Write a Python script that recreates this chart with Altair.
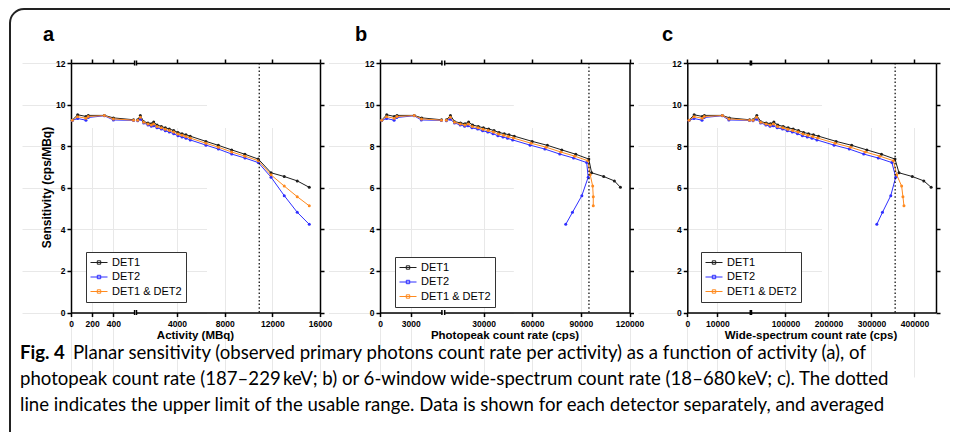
import altair as alt
import pandas as pd

# ---------------- data ----------------
SERIES = ["DET1", "DET2", "DET1 & DET2"]
SERIES_COLORS = ["#1e1e1e", "#2f2fff", "#ff8a1f"]

ACTIVITY = [12, 63, 141, 163, 315, 400, 590, 700, 920, 1205, 1565, 1845, 2045, 2320, 2685, 3020,
            3355, 3720, 4080, 4420, 4750, 5110, 6430, 7470, 8590, 9700, 10820, 11890, 13000, 14090, 15100]

SENS_DET1 = [9.25, 9.51, 9.43, 9.48, 9.48, 9.36, 9.27, 9.27, 9.48, 9.18, 9.12, 9.08, 9.16, 9.02, 8.95, 8.88,
             8.83, 8.75, 8.66, 8.60, 8.55, 8.48, 8.23, 8.04, 7.82, 7.61, 7.38, 6.72, 6.54, 6.33, 6.02]
SENS_DET2 = [9.24, 9.33, 9.25, 9.38, 9.46, 9.26, 9.24, 9.22, 9.30, 9.12, 9.02, 8.96, 8.98, 8.88, 8.82, 8.74,
             8.68, 8.60, 8.50, 8.44, 8.38, 8.30, 8.05, 7.86, 7.62, 7.43, 7.21, 6.51, 5.62, 4.82, 4.24]
SENS_BOTH = [9.25, 9.42, 9.34, 9.43, 9.47, 9.31, 9.25, 9.25, 9.39, 9.15, 9.07, 9.02, 9.07, 8.95, 8.88, 8.81,
             8.75, 8.68, 8.58, 8.52, 8.46, 8.39, 8.14, 7.95, 7.72, 7.52, 7.30, 6.62, 6.08, 5.57, 5.13]

PEAK_DET1 = [160, 659, 1400, 1660, 3345, 4080, 6016, 7138, 9594, 12168, 15771, 18595, 20793, 23228, 26794, 29902,
             33180, 36456, 39573, 42763, 45689, 48966, 60010, 69367, 78257, 86882, 94900, 96640, 104090, 110670, 114400]
PEAK_DET2 = [158, 647, 1380, 1645, 3338, 4037, 5997, 7100, 9412, 12088, 15598, 18349, 20384, 22868, 26405, 29431,
             32616, 35831, 38842, 41967, 44781, 47927, 58698, 67814, 77000, 85500, 93600, 94530, 90620, 84850, 80690]
PEAK_BOTH = [159, 653, 1390, 1652, 3342, 4059, 6006, 7119, 9503, 12128, 15685, 18472, 20589, 23048, 26600, 29667,
             32898, 36144, 39208, 42365, 45235, 48447, 59354, 68590, 77600, 86200, 94300, 95770, 97300, 97650, 97650]

WIDE_DET1 = [560, 2276, 5000, 5700, 11700, 14000, 20780, 24660, 33316, 42478, 55093, 65000, 73055, 82032, 94681,
             106198, 117906, 130200, 142040, 153566, 164887, 176796, 217800, 254000, 289300, 323300, 354700,
             363900, 394900, 421700, 438700]
WIDE_DET2 = [555, 2230, 4905, 5640, 11675, 13850, 20713, 24527, 32683, 42200, 54489, 64141, 71619, 80759, 93306,
             104524, 115903, 127968, 139416, 150709, 161609, 173043, 213037, 248313, 281901, 315653, 347500,
             356300, 344800, 325600, 312400]
WIDE_BOTH = [558, 2253, 4953, 5670, 11688, 13925, 20747, 24594, 33000, 42339, 54791, 64571, 72337, 81396, 93994,
             105361, 116905, 129084, 140728, 152138, 163248, 174920, 215419, 251157, 285601, 319477, 351000,
             358600, 370100, 373100, 375500]

PANEL_LETTERS = ["a", "b", "c"]
X_TITLES = ["Activity (MBq)", "Photopeak count rate (cps)", "Wide-spectrum count rate (cps)"]
Y_TITLE = "Sensitivity (cps/MBq)"
LEFT_TICKS = [[0, 200, 400], [0, 3000], [0, 10000]]
RIGHT_TICKS = [[4000, 8000, 12000, 16000], [30000, 60000, 90000, 120000], [100000, 200000, 300000, 400000]]
BREAKS = [600, 6050, 21000]
X_MAX = [16000, 120000, 450000]
LIMITS = [10900, 95000, 355000]
Y_TICKS = [0, 2, 4, 6, 8, 10, 12]

FIG_LABEL = "Fig. 4"
CAPTION = [
    "Planar sensitivity (observed primary photons count rate per activity) as a function of activity (a), of",
    "photopeak count rate (187\u2013229\u2009keV; b) or 6-window wide-spectrum count rate (18\u2013680\u2009keV; c). The dotted",
    "line indicates the upper limit of the usable range. Data is shown for each detector separately, and averaged",
]

SENS = [SENS_DET1, SENS_DET2, SENS_BOTH]
X_DATA = [
    [ACTIVITY, ACTIVITY, ACTIVITY],
    [PEAK_DET1, PEAK_DET2, PEAK_BOTH],
    [WIDE_DET1, WIDE_DET2, WIDE_BOTH],
]

# ---------------- layout ----------------
W, H = 942, 424
Y_RANGE = [304.5, 55]
GEOM = [
    dict(l=(63, 126.6), r=(128.5, 312)),
    dict(l=(372, 433.9), r=(436.7, 621.5)),
    dict(l=(679.3, 742.3), r=(743.5, 928)),
]
LEG_POS = [(78, 244), (387, 249), (693, 244)]
LETTER_X = [35, 347, 654]
XTITLE_X = [187.5, 497, 803]

FONT = "Liberation Sans"
CAP_FONT = "Lato"
CAP_SIZE = 18.6
AX = dict(domainColor="black", domainWidth=1.5, tickColor="black", tickWidth=1.5, tickSize=4,
          labelFont=FONT, labelFontWeight="bold", labelFontSize=8.5, labelColor="black",
          gridColor="#e8e8e8", gridWidth=1, labelFlush=False, title=None, format="d")


def yscale():
    return alt.Scale(domain=[Y_TICKS[0], Y_TICKS[-1]], range=Y_RANGE, nice=False, zero=False)


def xscale(dom, rng):
    return alt.Scale(domain=list(dom), range=list(rng), nice=False, zero=False)


def color(legend):
    return alt.Color("series:N", scale=alt.Scale(domain=SERIES, range=SERIES_COLORS), legend=legend)


def text_layer(txt, x, y, **kw):
    return alt.Chart(pd.DataFrame({"t": [txt]})).mark_text(**kw).encode(
        text="t:N", x=alt.value(x), y=alt.value(y))


layers = []

# outer rounded frame
layers.append(
    alt.Chart(pd.DataFrame({"k": [0]})).mark_rect(
        fill="transparent", stroke="#222222", strokeWidth=2, cornerRadius=14
    ).encode(x=alt.value(2), x2=alt.value(1400), y=alt.value(1), y2=alt.value(900))
)

for i in range(3):
    rows = []
    for s, name in enumerate(SERIES):
        for k in range(len(ACTIVITY)):
            rows.append({"series": name, "idx": k, "x": X_DATA[i][s][k], "y": SENS[s][k]})
    df = pd.DataFrame(rows)
    b = BREAKS[i]
    g = GEOM[i]
    ldom, rdom = (0, b), (b, X_MAX[i])
    dl = df[df.x < b]
    dr = df[df.x >= b]

    leg = alt.Legend(orient="none", legendX=LEG_POS[i][0], legendY=LEG_POS[i][1], title=None,
                     strokeColor="#333333", fillColor="white", padding=4,
                     symbolType="M-1,0L1,0M-0.2,-0.2L0.2,-0.2L0.2,0.2L-0.2,0.2Z",
                     symbolSize=289, symbolStrokeWidth=1, labelFont=FONT, labelFontSize=11,
                     labelColor="black", labelOffset=4, clipHeight=13, rowPadding=1.5)

    # left segment: line with bottom x axis and left y axis
    layers.append(alt.Chart(dl).mark_line(strokeWidth=1).encode(
        x=alt.X("x:Q", scale=xscale(ldom, g["l"]),
                axis=alt.Axis(orient="bottom", offset=Y_RANGE[0] - H, values=LEFT_TICKS[i],
                              grid=True, labelPadding=3, **AX)),
        y=alt.Y("y:Q", scale=yscale(),
                axis=alt.Axis(orient="left", offset=-g["l"][0], values=Y_TICKS,
                              grid=True, labelPadding=2, **AX)),
        color=color(leg), order="idx:Q"))
    # left segment points with top mirror axis
    layers.append(alt.Chart(dl).mark_point(filled=True, size=9, opacity=1).encode(
        x=alt.X("x:Q", scale=xscale(ldom, g["l"]),
                axis=alt.Axis(orient="top", offset=-Y_RANGE[1], values=LEFT_TICKS[i],
                              labels=False, grid=False, **AX)),
        y=alt.Y("y:Q", scale=yscale(), axis=None),
        color=color(None)))
    # right segment line with bottom axis and right mirror axis
    layers.append(alt.Chart(dr).mark_line(strokeWidth=1).encode(
        x=alt.X("x:Q", scale=xscale(rdom, g["r"]),
                axis=alt.Axis(orient="bottom", offset=Y_RANGE[0] - H, values=RIGHT_TICKS[i],
                              grid=True, labelPadding=3, **AX)),
        y=alt.Y("y:Q", scale=yscale(),
                axis=alt.Axis(orient="right", offset=g["r"][1] - W, values=Y_TICKS,
                              labels=False, grid=True, **AX)),
        color=color(None), order="idx:Q"))
    layers.append(alt.Chart(dr).mark_point(filled=True, size=9, opacity=1).encode(
        x=alt.X("x:Q", scale=xscale(rdom, g["r"]),
                axis=alt.Axis(orient="top", offset=-Y_RANGE[1], values=RIGHT_TICKS[i],
                              labels=False, grid=False, **AX)),
        y=alt.Y("y:Q", scale=yscale(), axis=None),
        color=color(None)))
    # usable-range limit
    layers.append(alt.Chart(pd.DataFrame({"x": [LIMITS[i]], "lo": [Y_TICKS[0]], "hi": [Y_TICKS[-1]]}))
                  .mark_rule(color="black", strokeWidth=1.2, strokeDash=[1.5, 2.2]).encode(
        x=alt.X("x:Q", scale=xscale(rdom, g["r"]), axis=None),
        y=alt.Y("lo:Q", scale=yscale(), axis=None), y2="hi:Q"))
    # axis-break marks
    ymax = Y_TICKS[-1]
    brk = pd.DataFrame({"x": [b, b], "lo": [ymax - 0.12, -0.12], "hi": [ymax + 0.12, 0.12]})
    for dom, rng in ((ldom, g["l"]), (rdom, g["r"])):
        layers.append(alt.Chart(brk).mark_rule(color="black", strokeWidth=1.5).encode(
            x=alt.X("x:Q", scale=xscale(dom, rng), axis=None),
            y=alt.Y("lo:Q", scale=yscale(), axis=None), y2="hi:Q"))

    # panel letter and x title
    layers.append(text_layer(PANEL_LETTERS[i], LETTER_X[i], 27, font=FONT, fontSize=20,
                             fontWeight="bold", align="left", baseline="middle", color="black"))
    layers.append(text_layer(X_TITLES[i], XTITLE_X[i], 327.5, font=FONT, fontSize=11.5,
                             fontWeight="bold", align="center", baseline="middle", color="black"))

layers.append(text_layer(Y_TITLE, 38.7, 179.5, font=FONT, fontSize=12, fontWeight="bold",
                         angle=270, align="center", baseline="middle", color="black"))

# caption
layers.append(text_layer(FIG_LABEL, 12, 345, font=CAP_FONT, fontSize=CAP_SIZE, fontWeight="bold",
                         align="left", baseline="middle", color="black"))
layers.append(text_layer(CAPTION[0], 65, 345, font=CAP_FONT, fontSize=CAP_SIZE,
                         align="left", baseline="middle", color="black"))
layers.append(text_layer(CAPTION[1], 12, 371, font=CAP_FONT, fontSize=CAP_SIZE,
                         align="left", baseline="middle", color="black"))
layers.append(text_layer(CAPTION[2], 12, 397, font=CAP_FONT, fontSize=CAP_SIZE,
                         align="left", baseline="middle", color="black"))

chart = alt.layer(*layers).resolve_scale(
    x="independent", y="independent", color="independent"
).resolve_axis(
    x="independent", y="independent"
).resolve_legend(
    color="independent"
).properties(
    width=W, height=H, padding=0, autosize=alt.AutoSizeParams(type="none")
).configure_view(strokeWidth=0)

chart.save("out.html", embed_options={"renderer": "svg", "actions": False})
